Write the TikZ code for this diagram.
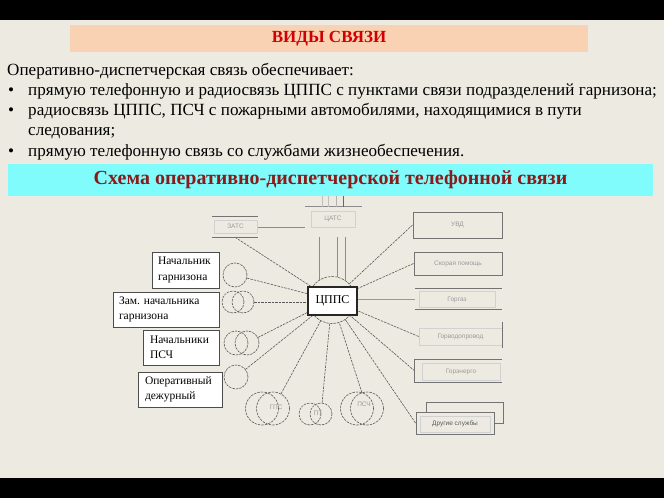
\documentclass[tikz,border=0pt]{standalone}
\usepackage{fontspec}
\setmainfont{Liberation Serif}
\newfontfamily\labfont{Liberation Sans}
\definecolor{bg}{HTML}{EDEBE1}
\definecolor{peach}{HTML}{F9D2B4}
\definecolor{titlered}{HTML}{D10000}
\definecolor{cyanband}{HTML}{80FCFC}
\definecolor{darkred}{HTML}{8B1A1A}
\definecolor{lnk}{HTML}{5A5A5A}
\pgfdeclarelayer{bgl}
\pgfdeclarelayer{lines}
\pgfsetlayers{bgl,lines,main}
\frenchspacing
\begin{document}
\begin{tikzpicture}[x=1pt,y=-1pt,
  spoke/.style={draw=lnk, line width=0.6pt, dash pattern=on 2.5pt off 1pt},
  ring/.style={circle, draw=lnk, line width=0.6pt, dash pattern=on 2.5pt off 1pt, inner sep=0pt},
  leftbox/.style={draw=black!70, line width=1pt, fill=white, inner xsep=6pt, inner ysep=0pt, align=left, font=\fontsize{11.5}{15.5}\selectfont},
  rightbox/.style={draw=black!55, line width=1pt, inner sep=0pt, font=\labfont\fontsize{6.5}{7}\selectfont, text=black!40},
  faintbox/.style={draw=black!18, line width=0.6pt, inner sep=0pt, font=\labfont\fontsize{6.5}{7}\selectfont, text=black!40},
  blank/.style={inner sep=0pt},
  bodytxt/.style={anchor=base west, inner sep=0pt, font=\fontsize{17.1}{20}\selectfont},
  vline/.style={draw=black!45, line width=0.8pt},
  edge/.style={draw=black!55, line width=1pt}
]
\useasboundingbox (0,0) rectangle (664,498);
\begin{pgfonlayer}{bgl}
  \fill[bg] (0,0) rectangle (664,498);
  \fill[black] (0,0) rectangle (664,20);
  \fill[black] (0,478) rectangle (664,498);
\end{pgfonlayer}

% headings
\node[fill=peach, minimum width=518pt, minimum height=27pt, inner sep=0pt,
      text=titlered, font=\bfseries\fontsize{17}{19}\selectfont] (title) at (329,38.5) {ВИДЫ СВЯЗИ};
\node[bodytxt] (intro) at (7,75) {Оперативно-диспетчерская связь обеспечивает:};
\node[bodytxt] (b1) at (8,95) {\textbullet};
\node[bodytxt] (t1) at (28,95) {прямую телефонную и радиосвязь ЦППС с пунктами связи подразделений гарнизона;};
\node[bodytxt] (b2) at (8,115) {\textbullet};
\node[bodytxt] (t2) at (28,115) {радиосвязь ЦППС, ПСЧ с пожарными автомобилями, находящимися в пути};
\node[bodytxt] (t2b) at (28,135) {следования;};
\node[bodytxt] (b3) at (8,156) {\textbullet};
\node[bodytxt] (t3) at (28,156) {прямую телефонную связь со службами жизнеобеспечения.};
\node[fill=cyanband, minimum width=645pt, minimum height=32pt, inner sep=0pt,
      text=darkred, font=\bfseries\fontsize{20}{22}\selectfont] (scheme) at (330.5,180) {Схема оперативно-диспетчерской телефонной связи};

% ZATS and TsATS
\node[blank, minimum width=46pt, minimum height=20pt] (zats) at (235,227) {};
\node[faintbox, minimum width=43pt, minimum height=13pt] (zatsin) at (235.5,226.5) {ЗАТС};
\draw[edge] (zats.north west) -- (zats.north east);
\draw[edge] (zats.south west) -- (zats.south east);
\node[blank, minimum width=57pt, minimum height=20pt] (cats) at (333.5,217) {};
\node[faintbox, minimum width=44pt, minimum height=16pt] (catsin) at (333,219) {ЦАТС};
\draw[vline] (cats.north west) -- (cats.north east);
\draw[vline] (zats.east) -- (zats.east -| cats.west);
\foreach \x/\c in {322/black!25,328/black!25,336/black!30,343/black!60}{
  \coordinate (u\x) at (\x,196);
  \draw[draw=\c, line width=0.8pt] (u\x) -- (u\x |- cats.north);
}

% centre
\node[ring, minimum size=47pt] (cppsc) at (332,300) {};
\node[draw=black!85, line width=1.2pt, fill=white, minimum width=49pt, minimum height=28pt, inner sep=0pt,
      font=\fontsize{12}{14}\selectfont] (cpps) at (332.5,301) {ЦППС};
\coordinate (d1) at (319,237);
\coordinate (d2) at (337,237);
\coordinate (d3) at (345,237);
\coordinate (e1) at (319,280);
\coordinate (e2) at (337,276.5);
\coordinate (e3) at (345,280);
\begin{pgfonlayer}{lines}
  \draw[vline] (d1) -- (e1);
  \draw[vline] (d2) -- (e2);
  \draw[vline] (d3) -- (e3);
\end{pgfonlayer}

% left boxes and circles
\node[leftbox, text width=55pt, minimum height=36pt] (ngb) at (185.5,270) {Начальник\\гарнизона};
\node[ring, minimum size=24pt] (ng) at (235,275) {};
\node[leftbox, text width=94pt, minimum height=35pt] (zamb) at (166,309.5) {Зам. начальника\\гарнизона};
\node[ring, minimum size=22pt] (zam1) at (233,302) {};
\node[ring, minimum size=22pt] (zam2) at (243,302) {};
\node[leftbox, text width=62pt, inner xsep=7pt, minimum height=35pt] (pscb) at (181,347.5) {Начальники\\ПСЧ};
\node[ring, minimum size=24pt] (psc1) at (236,343) {};
\node[ring, minimum size=24pt] (psc2) at (247,343) {};
\node[leftbox, text width=70pt, inner xsep=7pt, minimum height=35pt] (odb) at (180,389.5) {Оперативный\\дежурный};
\node[ring, minimum size=24pt] (od) at (236,377) {};

% bottom circles
\node[ring, minimum size=33pt] (gps1) at (262,408.5) {};
\node[ring, minimum size=33pt] (gps2) at (273,408.5) {};
\node[faintbox, draw=none, minimum width=20pt, minimum height=14pt] (gpsl) at (276,407) {ГПС};
\node[ring, minimum size=22pt] (pt1) at (310,414) {};
\node[ring, minimum size=22pt] (pt2) at (321,414) {};
\node[faintbox, draw=none] (ptl) at (318,413) {ПТ};
\node[ring, minimum size=33pt] (bpsc1) at (357,408.5) {};
\node[ring, minimum size=33pt] (bpsc2) at (367,408.5) {};
\node[faintbox, draw=none] (bpscl) at (364,404) {ПСЧ};

% right boxes
\node[rightbox, minimum width=89pt, minimum height=26pt] (uvd) at (457.5,225) {УВД};
\node[rightbox, minimum width=88pt, minimum height=23pt] (skor) at (458,263.5) {Скорая помощь};
\node[blank, minimum width=87pt, minimum height=21pt] (gorgazo) at (458.5,299) {};
\node[faintbox, minimum width=76pt, minimum height=16pt] (gorgaz) at (457,299.5) {Горгаз};
\draw[edge] (gorgazo.north west) -- (gorgazo.north east);
\draw[edge] (gorgazo.south west) -- (gorgazo.south east);
\node[faintbox, minimum width=83pt, minimum height=17pt] (gvod) at (460.5,336.5) {Горводопровод};
\draw[edge] ([yshift=6pt]gvod.north east) -- ([yshift=-3pt]gvod.south east);
\node[blank, minimum width=87pt, minimum height=22pt] (geno) at (458.5,371) {};
\draw[edge] (geno.north east) -- (geno.north west) -- (geno.south west) -- (geno.south east);
\node[faintbox, minimum width=78pt, minimum height=17pt] (gen) at (461,371.5) {Горэнерго};
\node[rightbox, minimum width=77pt, minimum height=21pt] (dra) at (464.5,412.5) {};
\node[rightbox, fill=bg, minimum width=78pt, minimum height=22pt] (drb) at (455,423) {};
\node[faintbox, minimum width=70pt, minimum height=16pt, text=black!65] (drl) at (455,424) {Другие службы};

% spokes
\begin{pgfonlayer}{lines}
  \draw[spoke] (zats.south) -- (cppsc);
  \draw[spoke] (ng) -- (cppsc);
  \draw[spoke] (zam2.east) -- (zam2.east -| cpps.west);
  \draw[spoke] (psc2) -- (cppsc);
  \draw[spoke] (od) -- (cppsc);
  \draw[spoke] (gps2) -- (cppsc);
  \draw[spoke] (pt2) -- (cppsc);
  \draw[spoke] (bpsc2) -- (cppsc);
  \draw[spoke] (drb.west) -- (cppsc);
  \draw[spoke] (geno.west) -- (cppsc);
  \draw[spoke] (gvod.west) -- (cppsc);
  \draw[draw=black!40, line width=0.8pt] (cpps.east |- gorgazo.west) -- (gorgazo.west);
  \draw[spoke] (skor.west) -- (cppsc);
  \draw[spoke] (uvd.west) -- (cppsc);
\end{pgfonlayer}
\end{tikzpicture}
\end{document}
